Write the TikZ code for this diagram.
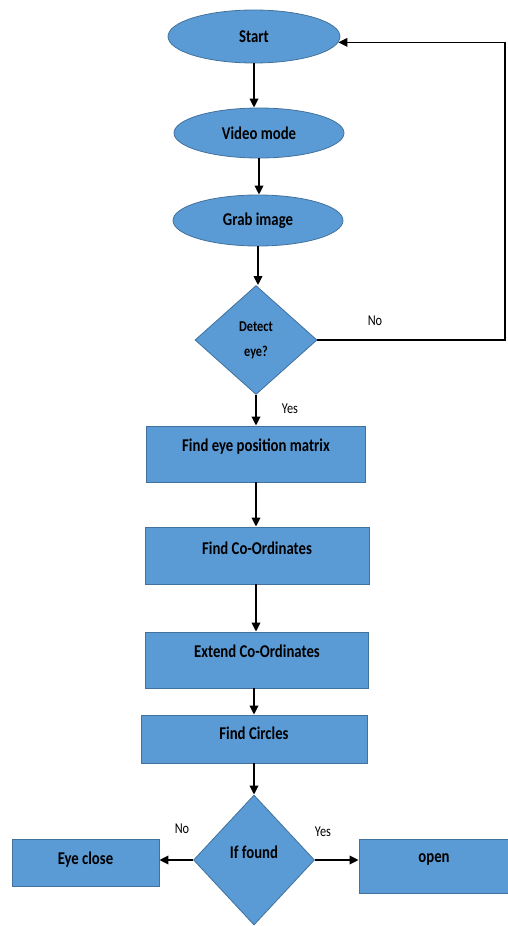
\documentclass[tikz,border=0pt]{standalone}
\usepackage{fontspec}
\setmainfont{Carlito}[FakeStretch=0.82]
\usetikzlibrary{shapes.geometric,arrows.meta}
\definecolor{fillblue}{HTML}{5B9BD5}
\definecolor{edgeblue}{HTML}{41719C}
\begin{document}
\begin{tikzpicture}[x=1pt,y=-1pt,
  every node/.style={text=black},
  txt/.style={font=\bfseries\fontsize{18}{20}\selectfont},
  term/.style={txt, ellipse, fill=fillblue, draw=edgeblue, line width=0.8pt, inner sep=0pt},
  proc/.style={txt, rectangle, fill=fillblue, draw=edgeblue, line width=0.8pt, inner sep=0pt},
  dec/.style={txt, diamond, fill=fillblue, draw=edgeblue, line width=0.8pt, inner sep=0pt},
  arr/.style={draw=black, line width=2pt, -{Triangle[length=9pt,width=8.5pt]}},
  back/.style={draw=black, line width=1.3pt, -{Triangle[length=9pt,width=8.5pt]}},
  lbl/.style={font=\fontsize{15}{17}\selectfont}]
\useasboundingbox (0,0) rectangle (508,926);

\node[term, minimum width=172pt, minimum height=53pt] (start) at (254,36.5) {Start};
\node[term, minimum width=170pt, minimum height=50pt] (video) at (259,133) {Video mode};
\node[term, minimum width=170pt, minimum height=51pt] (grab) at (258,220.5) {Grab image};
\node[dec, minimum width=122pt, minimum height=109pt, align=center,
      font=\bfseries\fontsize{15}{25}\selectfont] (detect) at (256,340) {Detect\\eye?};
\node[proc, minimum width=219pt, text height=25pt, text depth=31pt] (fepm) at (256,454) {Find eye position matrix};
\node[proc, minimum width=224pt, text height=27pt, text depth=30pt] (fco) at (257,555.5) {Find Co-Ordinates};
\node[proc, minimum width=223pt, text height=25pt, text depth=31pt] (eco) at (257,660) {Extend Co-Ordinates};
\node[proc, minimum width=226pt, text height=24pt, text depth=24pt] (fc) at (254,739) {Find Circles};
\node[dec, minimum width=121pt, minimum height=130pt, text height=10pt, text depth=13pt] (found) at (254,860) {If found};
\node[proc, minimum width=147pt, text height=25pt, text depth=22pt] (close) at (85.5,862.5) {Eye close};
\node[proc, minimum width=150pt, text height=23.5pt, text depth=30.5pt] (open) at (434,866) {open};

\coordinate (loopR) at (505,340);

\draw[arr] (start.south) -- (start.south |- video.north);
\draw[arr] (video.south) -- (video.south |- grab.north);
\draw[arr] (grab.south) -- (grab.south |- detect.north);
\draw[arr] (detect.south) -- (detect.south |- fepm.north);
\draw[arr] (fepm.south) -- (fepm.south |- fco.north);
\draw[arr] (fco.south -| fepm.south) -- (fepm.south |- eco.north);
\draw[arr] (eco.south -| fc.south) -- (fc.north);
\draw[arr] (fc.south) -- (found.north);
\draw[arr] (found.west) -- (close.east |- found.west);
\draw[arr] (found.east) -- (open.west |- found.east);
\draw[back] (detect.east) -- (loopR) |- (start.-4);

\node[lbl] (no1) at (375,321) {No};
\node[lbl] (yes1) at (290,409) {Yes};
\node[lbl] (no2) at (182,829) {No};
\node[lbl] (yes2) at (323,832) {Yes};
\end{tikzpicture}
\end{document}
